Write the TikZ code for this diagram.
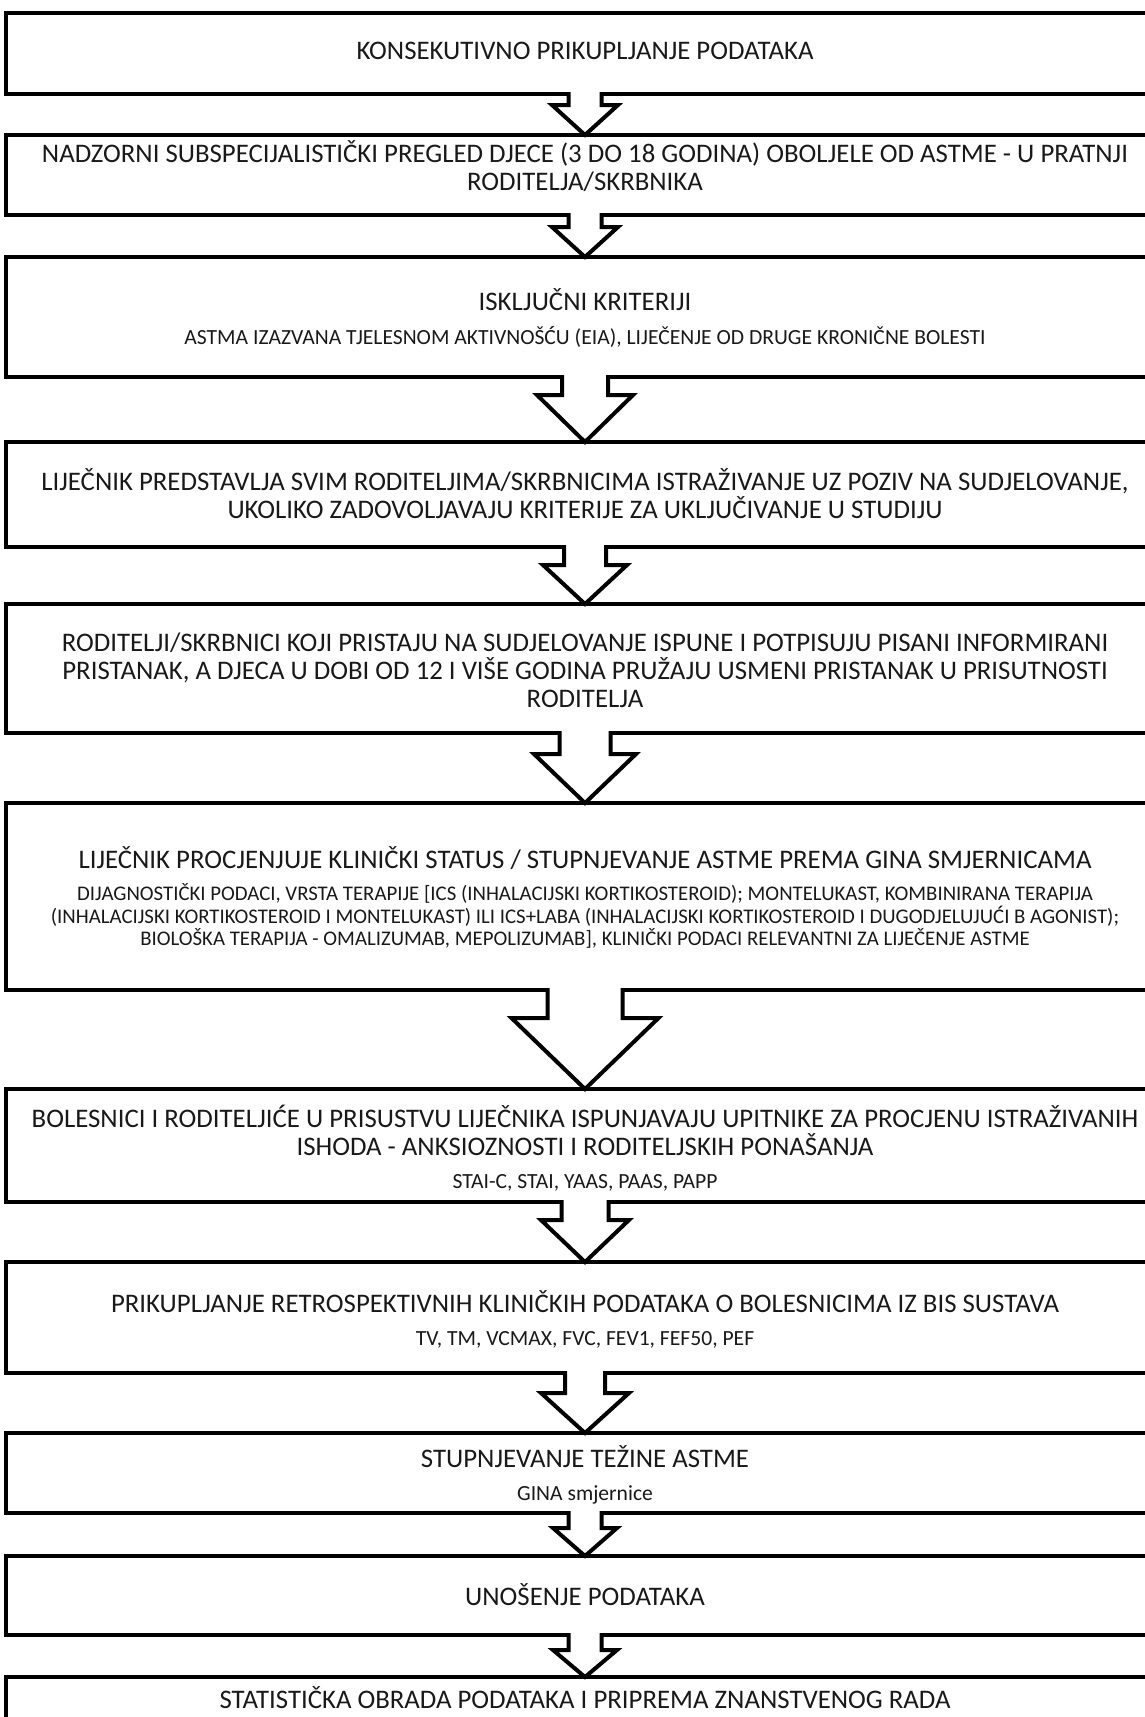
\documentclass[tikz,border=0pt]{standalone}
\usepackage{fontspec}
\setmainfont{Carlito}
\usetikzlibrary{positioning, calc, shapes, arrows}

\begin{document}
\begin{tikzpicture}[x=1pt, y=-1pt,
  box/.style={draw, line width=4pt, rectangle, minimum width=1158pt, outer sep=0pt, inner sep=0pt},
  head/.style={font=\fontsize{26.8}{28}\selectfont, align=center, inner sep=0pt, text=black!90},
  sub/.style={font=\fontsize{21.6}{22.5}\selectfont, align=center, inner sep=0pt, text=black!90},
  blockarr/.style={draw, fill=white, line width=4pt, line join=miter}]

  \useasboundingbox (0,0) rectangle (1145,1717);
  \clip (0,0) rectangle (1145,1717);

  % frames
  \node[box, minimum height=81pt]  (b1)  at (585,53.5)  {};
  \node[box, minimum height=80pt]  (b2)  at (585,175)   {};
  \node[box, minimum height=120pt] (b3)  at (585,317)   {};
  \node[box, minimum height=105pt] (b4)  at (585,494.5) {};
  \node[box, minimum height=129pt] (b5)  at (585,668.5) {};
  \node[box, minimum height=187pt] (b6)  at (585,896.5) {};
  \node[box, minimum height=113pt] (b7)  at (585,1145.5) {};
  \node[box, minimum height=111pt] (b8)  at (585,1317.5) {};
  \node[box, minimum height=80pt]  (b9)  at (585,1473)  {};
  \node[box, minimum height=79pt]  (b10) at (585,1595.5) {};
  \node[box, minimum height=120pt] (b11) at (585,1737)  {};

  % texts
  \node[head] (t1) at (585,51) {KONSEKUTIVNO PRIKUPLJANJE PODATAKA};
  \node[head] (t2) at (585,166) {NADZORNI SUBSPECIJALISTIČKI PREGLED DJECE (3 DO 18 GODINA) OBOLJELE OD ASTME - U PRATNJI\\RODITELJA/SKRBNIKA};
  \node[head] (t3) at (585,300) {ISKLJUČNI KRITERIJI};
  \node[sub]  (s3) at (585,337) {ASTMA IZAZVANA TJELESNOM AKTIVNOŠĆU (EIA), LIJEČENJE OD DRUGE KRONIČNE BOLESTI};
  \node[head] (t4) at (585,494) {LIJEČNIK PREDSTAVLJA SVIM RODITELJIMA/SKRBNICIMA ISTRAŽIVANJE UZ POZIV NA SUDJELOVANJE,\\UKOLIKO ZADOVOLJAVAJU KRITERIJE ZA UKLJUČIVANJE U STUDIJU};
  \node[head] (t5) at (585,670) {RODITELJI/SKRBNICI KOJI PRISTAJU NA SUDJELOVANJE ISPUNE I POTPISUJU PISANI INFORMIRANI\\PRISTANAK, A DJECA U DOBI OD 12 I VIŠE GODINA PRUŽAJU USMENI PRISTANAK U PRISUTNOSTI\\RODITELJA};
  \node[head] (t6) at (585,858) {LIJEČNIK PROCJENJUJE KLINIČKI STATUS / STUPNJEVANJE ASTME PREMA GINA SMJERNICAMA};
  \node[sub, font=\fontsize{20.8}{22.5}\selectfont] (s6) at (585,916) {DIJAGNOSTIČKI PODACI, VRSTA TERAPIJE [ICS (INHALACIJSKI KORTIKOSTEROID); MONTELUKAST, KOMBINIRANA TERAPIJA\\(INHALACIJSKI KORTIKOSTEROID I MONTELUKAST) ILI ICS+LABA (INHALACIJSKI KORTIKOSTEROID I DUGODJELUJUĆI B AGONIST);\\BIOLOŠKA TERAPIJA - OMALIZUMAB, MEPOLIZUMAB], KLINIČKI PODACI RELEVANTNI ZA LIJEČENJE ASTME};
  \node[head] (t7) at (585,1130) {BOLESNICI I RODITELJIĆE U PRISUSTVU LIJEČNIKA ISPUNJAVAJU UPITNIKE ZA PROCJENU ISTRAŽIVANIH\\ISHODA - ANKSIOZNOSTI I RODITELJSKIH PONAŠANJA};
  \node[sub]  (s7) at (585,1183) {STAI-C, STAI, YAAS, PAAS, PAPP};
  \node[head] (t8) at (585,1302) {PRIKUPLJANJE RETROSPEKTIVNIH KLINIČKIH PODATAKA O BOLESNICIMA IZ BIS SUSTAVA};
  \node[sub]  (s8) at (585,1340) {TV, TM, VCMAX, FVC, FEV1, FEF50, PEF};
  \node[head] (t9) at (585,1457) {STUPNJEVANJE TEŽINE ASTME};
  \node[sub]  (s9) at (585,1495) {GINA smjernice};
  \node[head] (t10) at (585,1595) {UNOŠENJE PODATAKA};
  \node[head] (t11) at (585,1698) {STATISTIČKA OBRADA PODATAKA I PRIPREMA ZNANSTVENOG RADA};

  % block arrows: from/to/stem half width/head half width/stem length
  \foreach \from/\to/\sw/\hw/\sl in {b1/b2/16.5/33/11, b2/b3/16.5/33/12, b3/b4/23/48/18,
      b4/b5/21/42/18, b5/b6/25.5/51/21, b6/b7/37.5/73.5/28, b7/b8/23.5/44/18,
      b8/b9/20/44/20, b9/b10/16.5/32/15, b10/b11/16.5/32/15}
  {
    \fill[white] ($(\from.south)+(-\sw+1.5,-3)$) rectangle ($(\from.south)+(\sw-1.5,\sl)$);
    \filldraw[blockarr] ($(\from.south)+(-\sw,-2)$) -- ($(\from.south)+(-\sw,\sl)$)
      -- ($(\from.south)+(-\hw,\sl)$) -- (\to.north) -- ($(\from.south)+(\hw,\sl)$)
      -- ($(\from.south)+(\sw,\sl)$) -- ($(\from.south)+(\sw,-2)$);
  }
\end{tikzpicture}
\end{document}
